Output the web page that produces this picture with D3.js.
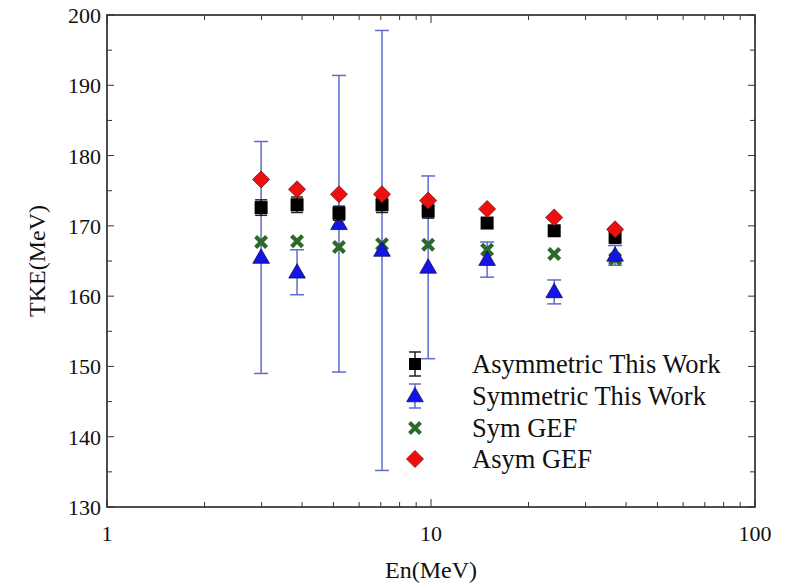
<!DOCTYPE html>
<html><head><meta charset="utf-8">
<script src="https://cdn.jsdelivr.net/npm/d3@7"></script>
<style>
body{margin:0;background:#fff;}
text{font-family:"Liberation Serif","Times New Roman",serif;fill:#111;}
</style></head>
<body>
<svg id="c" width="792" height="586"></svg>
<script>
const energies = [2.99, 3.86, 5.2, 7.06, 9.8, 14.9, 24.0, 37.0];
const asymThisWork = [172.6, 173.0, 171.8, 173.0, 172.1, 170.4, 169.3, 168.4];
const asymErr = [1.1, 1.1, 1.0, 1.1, 1.0, 0.6, 0.6, 0.9];
const symThisWork = [165.5, 163.4, 170.3, 166.5, 164.1, 165.2, 160.6, 165.8];
const symErr = [16.5, 3.2, 21.1, 31.3, 13.0, 2.5, 1.7, 1.4];
const symGEF = [167.7, 167.8, 167.0, 167.4, 167.3, 166.6, 166.0, 165.3];
const asymGEF = [176.6, 175.2, 174.5, 174.5, 173.6, 172.4, 171.2, 169.5];
const yTicks = [130, 140, 150, 160, 170, 180, 190, 200];
const xTickLabels = [1, 10, 100];
const legendLabels = ["Asymmetric This Work", "Symmetric This Work", "Sym GEF", "Asym GEF"];

const svg = d3.select("#c");
const L = 107, R = 755, T = 15, B = 507;
const x = d3.scaleLog().domain([1, 100]).range([L, R]);
const y = d3.scaleLinear().domain([130, 200]).range([B, T]);

const errColor = "#5f6bd0";
const blue = "#1414e6", red = "#ee1010", green = "#2c6a2c";

// frame
svg.append("rect").attr("x", L).attr("y", T).attr("width", R - L).attr("height", B - T)
  .attr("fill", "none").attr("stroke", "#222").attr("stroke-width", 1.6);

// ticks
const majorX = [1, 10, 100];
const minorX = [];
for (let d = 1; d <= 10; d *= 10) for (let k = 2; k <= 9; k++) minorX.push(d * k);
const g = svg.append("g").attr("stroke", "#333").attr("stroke-width", 1);
majorX.forEach(v => {
  g.append("line").attr("x1", x(v)).attr("x2", x(v)).attr("y1", B).attr("y2", B - 8);
  g.append("line").attr("x1", x(v)).attr("x2", x(v)).attr("y1", T).attr("y2", T + 8);
});
minorX.forEach(v => {
  g.append("line").attr("x1", x(v)).attr("x2", x(v)).attr("y1", B).attr("y2", B - 5);
  g.append("line").attr("x1", x(v)).attr("x2", x(v)).attr("y1", T).attr("y2", T + 5);
});
d3.range(130, 201, 5).forEach(v => {
  const len = v % 10 === 0 ? 7 : 5;
  g.append("line").attr("x1", L).attr("x2", L + len).attr("y1", y(v)).attr("y2", y(v));
  g.append("line").attr("x1", R).attr("x2", R - len).attr("y1", y(v)).attr("y2", y(v));
});

// tick labels
yTicks.forEach(v => {
  svg.append("text").attr("x", L - 6).attr("y", y(v) + 8).attr("text-anchor", "end")
    .attr("font-size", 22).text(v);
});
xTickLabels.forEach(v => {
  svg.append("text").attr("x", x(v)).attr("y", 541).attr("text-anchor", "middle")
    .attr("font-size", 22).text(v);
});

// axis titles
svg.append("text").attr("x", (L + R) / 2).attr("y", 578).attr("text-anchor", "middle")
  .attr("font-size", 24).text("En(MeV)");
svg.append("text").attr("transform", "translate(45," + ((T + B) / 2) + ") rotate(-90)")
  .attr("text-anchor", "middle").attr("font-size", 24).text("TKE(MeV)");

const idx = d3.range(energies.length);

function errbar(sel, cx, lo, hi, color, cap) {
  sel.append("line").attr("x1", cx).attr("x2", cx).attr("y1", lo).attr("y2", hi)
    .attr("stroke", color).attr("stroke-width", 1.5);
  [lo, hi].forEach(yy => sel.append("line").attr("x1", cx - cap).attr("x2", cx + cap)
    .attr("y1", yy).attr("y2", yy).attr("stroke", color).attr("stroke-width", 1.5));
}
const triPath = d3.symbol().type(d3.symbolTriangle).size(120)();
const diaPath = "M0,-8.5L8.5,0L0,8.5L-8.5,0Z";
const crossPath = "M-5.5,-5.5L5.5,5.5M5.5,-5.5L-5.5,5.5";

// blue error bars
const gb = svg.append("g");
idx.forEach(i => errbar(gb, x(energies[i]), y(symThisWork[i] - symErr[i]), y(symThisWork[i] + symErr[i]), errColor, 7));

// green crosses
svg.append("g").selectAll("path").data(idx).join("path")
  .attr("transform", i => `translate(${x(energies[i])},${y(symGEF[i])})`)
  .attr("d", crossPath).attr("stroke", green).attr("stroke-width", 4.2).attr("fill", "none");

// blue triangles
svg.append("g").selectAll("path").data(idx).join("path")
  .attr("transform", i => `translate(${x(energies[i])},${y(symThisWork[i]) + 1})`)
  .attr("d", triPath).attr("fill", blue).attr("stroke", "#101060").attr("stroke-width", 0.8);

// black error bars + squares
const gk = svg.append("g");
idx.forEach(i => errbar(gk, x(energies[i]), y(asymThisWork[i] - asymErr[i]), y(asymThisWork[i] + asymErr[i]), "#222", 6));
svg.append("g").selectAll("rect").data(idx).join("rect")
  .attr("x", i => x(energies[i]) - 6.5).attr("y", i => y(asymThisWork[i]) - 6.5)
  .attr("width", 13).attr("height", 13).attr("fill", "#000");

// red diamonds
svg.append("g").selectAll("path").data(idx).join("path")
  .attr("transform", i => `translate(${x(energies[i])},${y(asymGEF[i])})`)
  .attr("d", diaPath).attr("fill", red).attr("stroke", "#7a1010").attr("stroke-width", 0.8);

// legend
const legY = [364, 396, 428, 459];
const lx = 415;
const lg = svg.append("g");
errbar(lg, lx, legY[0] - 12, legY[0] + 12, "#222", 6);
lg.append("rect").attr("x", lx - 6).attr("y", legY[0] - 6).attr("width", 12).attr("height", 12).attr("fill", "#000");
errbar(lg, lx, legY[1] - 12, legY[1] + 12, errColor, 6);
lg.append("path").attr("transform", `translate(${lx},${legY[1] + 1})`).attr("d", triPath)
  .attr("fill", blue).attr("stroke", "#101060").attr("stroke-width", 0.8);
lg.append("path").attr("transform", `translate(${lx},${legY[2]})`).attr("d", crossPath)
  .attr("stroke", green).attr("stroke-width", 4).attr("fill", "none");
lg.append("path").attr("transform", `translate(${lx},${legY[3]})`).attr("d", diaPath)
  .attr("fill", red).attr("stroke", "#7a1010").attr("stroke-width", 0.8);
legendLabels.forEach((t, i) => {
  lg.append("text").attr("x", 472).attr("y", legY[i] + 9).attr("font-size", 26.5).text(t);
});
</script>
</body></html>
